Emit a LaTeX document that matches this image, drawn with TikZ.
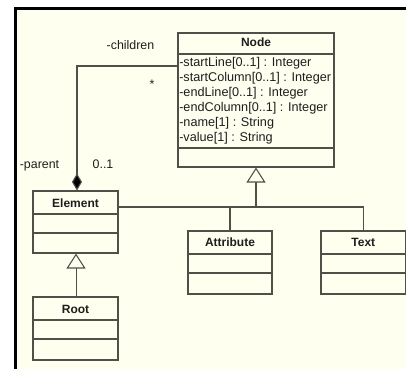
\documentclass[tikz,border=0pt]{standalone}
\usepackage{fontspec}
\setmainfont{Liberation Sans}
\usetikzlibrary{arrows.meta,fit,calc}
\definecolor{cream}{RGB}{255,255,240}
\definecolor{linegray}{RGB}{80,80,72}
\definecolor{txt}{RGB}{30,30,30}
\begin{document}
\begin{tikzpicture}[x=0.75pt,y=-0.75pt,
  classbox/.style={draw=linegray,line width=0.8pt,inner sep=0pt,fit=#1},
  sep/.style={draw=linegray,line width=0.8pt},
  conn/.style={draw=linegray,line width=0.8pt},
  title/.style={font=\fontsize{9}{11}\selectfont\bfseries,text=txt,inner sep=0pt,anchor=base},
  attr/.style={font=\fontsize{9.5}{11}\selectfont,text=txt,inner sep=0pt,anchor=base west},
  lbl/.style={font=\fontsize{9.3}{11}\selectfont,text=txt,inner sep=0pt,anchor=base},
  gentip/.style={-{Triangle[length=11.25pt,width=14.25pt,fill=cream]}},
  comptip/.style={-{Diamond[length=12.75pt,width=7.5pt,fill=black]}}
]
\useasboundingbox (0,0) rectangle (406,369);
\fill[white] (0,0) rectangle (406,369);
\fill[cream] (15.5,8.5) rectangle (406,369);
\draw[black,line width=2.25pt] (15.5,369) -- (15.5,8.5) -- (406,8.5);

% corner coordinates of the classes
\coordinate (n1) at (178,33);  \coordinate (n2) at (334,167);
\coordinate (e1) at (33,191);  \coordinate (e2) at (118,253);
\coordinate (r1) at (33,297);  \coordinate (r2) at (118,360);
\coordinate (a1) at (188,231); \coordinate (a2) at (272,294);
\coordinate (t1) at (321,231); \coordinate (t2) at (405.6,294);

% classes
\node[classbox={(n1)(n2)}] (node) {};
\draw[sep] (178,54) -- (334,54);
\draw[sep] (178,148) -- (334,148);
\node[title] (nodet) at (256,46) {Node};
\node[attr] (at1) at (179,66) {-startLine[0..1] : Integer};
\node[attr] (at2) at (179,81) {-startColumn[0..1] : Integer};
\node[attr] (at3) at (179,96) {-endLine[0..1] : Integer};
\node[attr] (at4) at (179,111) {-endColumn[0..1] : Integer};
\node[attr] (at5) at (179,126) {-name[1] : String};
\node[attr] (at6) at (179,141) {-value[1] : String};

\node[classbox={(e1)(e2)}] (elem) {};
\draw[sep] (33,214) -- (118,214);
\draw[sep] (33,233) -- (118,233);
\node[title] (elemt) at (75.5,207.5) {Element};

\node[classbox={(r1)(r2)}] (root) {};
\draw[sep] (33,320) -- (118,320);
\draw[sep] (33,339) -- (118,339);
\node[title] (roott) at (75.5,313) {Root};

\node[classbox={(a1)(a2)}] (attrb) {};
\draw[sep] (188,254) -- (272,254);
\draw[sep] (188,273) -- (272,273);
\node[title] (attrt) at (230,246.5) {Attribute};

\node[classbox={(t1)(t2)}] (text) {};
\draw[sep] (321,254) -- (405.6,254);
\draw[sep] (321,273) -- (405.6,273);
\node[title] (textt) at (363.3,246.5) {Text};

% association (composition)
\coordinate (cl) at (77,66);
\draw[conn,comptip] (node.west |- cl) -| ([xshift=1.1pt]elem.north);
\node[lbl] (lchildren) at (130.5,49) {-children};
\node[lbl] (lstar) at (152,88) {*};
\node[lbl] (lparent) at (39.5,168) {-parent};
\node[lbl] (lmult) at (103,168) {0..1};

% generalization Root -> Element
\draw[conn,gentip] ([xshift=0.4pt]root.north) -- ([xshift=0.4pt]elem.south);

% generalization tree to Node
\coordinate (junc) at (256,207);
\draw[conn] (elem.east |- junc) -| (text.north);
\draw[conn] (attrb.north) |- (junc);
\draw[conn,gentip] (junc) -- (node.south);
\end{tikzpicture}
\end{document}
